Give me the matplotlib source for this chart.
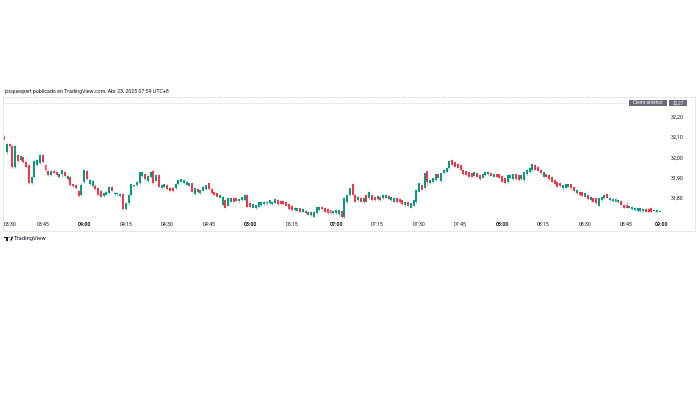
import numpy as np
import matplotlib.pyplot as plt
from matplotlib.patches import Rectangle, Circle, Polygon

plt.rcParams['font.family'] = ['Roboto', 'DejaVu Sans']

# 1-minute candles, 03:31 .. 08:58 (session break 05:30 -> 07:00)
opens = [
    32.10, 32.03, 32.065, 32.055, 31.955, 32.015, 31.99, 32.005, 31.98, 31.965,
    31.875, 31.905, 31.965, 31.975, 32.015, 31.965, 31.935, 31.915, 31.935, 31.93,
    31.905, 31.92, 31.93, 31.895, 31.905, 31.87, 31.865, 31.835, 31.815, 31.88,
    31.935, 31.87, 31.86, 31.86, 31.85, 31.837, 31.81, 31.817, 31.825, 31.858,
    31.82, 31.822, 31.81, 31.82, 31.748, 31.776, 31.817, 31.862, 31.866, 31.874,
    31.91, 31.918, 31.885, 31.905, 31.935, 31.888, 31.915, 31.85, 31.855, 31.866,
    31.853, 31.852, 31.85, 31.869, 31.883, 31.876, 31.868, 31.863, 31.874, 31.822,
    31.846, 31.826, 31.838, 31.846, 31.874, 31.846, 31.83, 31.825, 31.803, 31.768,
    31.792, 31.765, 31.784, 31.80, 31.80, 31.788,
    31.792, 31.795, 31.817, 31.776, 31.755, 31.752, 31.76, 31.768, 31.771, 31.776,
    31.776, 31.771, 31.776, 31.792, 31.788, 31.786, 31.784, 31.771, 31.765, 31.742,
    31.74, 31.752, 31.736, 31.728, 31.735, 31.717, 31.711, 31.727, 31.743, 31.76,
    31.755, 31.748, 31.743, 31.728, 31.728, 31.722, 31.74, 31.71, 31.784, 31.817,
    31.869, 31.817, 31.792, 31.804, 31.784, 31.817, 31.801, 31.817, 31.809, 31.797,
    31.809, 31.801, 31.804, 31.814, 31.792, 31.784, 31.801, 31.797, 31.792, 31.768,
    31.781, 31.755, 31.765, 31.784, 31.833, 31.866, 31.85, 31.935, 31.874, 31.879,
    31.891, 31.918, 31.886, 31.923, 31.931, 31.948, 31.989, 31.977, 31.967, 31.964,
    31.94, 31.935,
    31.928, 31.923, 31.912, 31.923, 31.915, 31.902, 31.915, 31.918, 31.926, 31.907,
    31.918, 31.918, 31.912, 31.899, 31.879, 31.899, 31.895, 31.918, 31.915, 31.895,
    31.891, 31.918, 31.928, 31.94, 31.964, 31.956, 31.94, 31.907, 31.918, 31.915,
    31.907, 31.891, 31.879, 31.876, 31.85, 31.853, 31.858, 31.869, 31.858, 31.825,
    31.833, 31.83, 31.809, 31.817, 31.792, 31.804, 31.801, 31.765, 31.792, 31.801,
    31.82, 31.792, 31.788, 31.784, 31.781, 31.788, 31.768, 31.768, 31.755, 31.748,
    31.743, 31.739, 31.739, 31.739, 31.748, 31.748, 31.752, 31.739, 31.735, 31.736,
]
highs = [
    32.11, 32.07, 32.07, 32.06, 32.06, 32.02, 32.015, 32.01, 31.985, 31.97,
    31.91, 31.99, 31.995, 32.02, 32.02, 31.97, 31.94, 31.94, 31.94, 31.935,
    31.925, 31.945, 31.935, 31.915, 31.91, 31.875, 31.87, 31.84, 31.875, 31.945,
    31.94, 31.895, 31.89, 31.872, 31.855, 31.84, 31.826, 31.835, 31.86, 31.862,
    31.83, 31.832, 31.826, 31.826, 31.78, 31.82, 31.878, 31.868, 31.885, 31.93,
    31.935, 31.922, 31.915, 31.935, 31.94, 31.918, 31.92, 31.868, 31.872, 31.87,
    31.856, 31.858, 31.875, 31.893, 31.897, 31.893, 31.884, 31.876, 31.878, 31.852,
    31.85, 31.844, 31.86, 31.868, 31.878, 31.85, 31.834, 31.828, 31.82, 31.812,
    31.795, 31.802, 31.806, 31.804, 31.803, 31.80,
    31.81, 31.82, 31.822, 31.78, 31.774, 31.77, 31.784, 31.787, 31.787, 31.786,
    31.795, 31.787, 31.80, 31.796, 31.791, 31.79, 31.787, 31.774, 31.768, 31.758,
    31.754, 31.755, 31.751, 31.742, 31.738, 31.734, 31.737, 31.763, 31.763, 31.763,
    31.758, 31.751, 31.746, 31.742, 31.746, 31.746, 31.743, 31.803, 31.82, 31.852,
    31.875, 31.82, 31.812, 31.808, 31.806, 31.82, 31.836, 31.822, 31.812, 31.816,
    31.812, 31.82, 31.82, 31.818, 31.812, 31.803, 31.805, 31.80, 31.795, 31.786,
    31.784, 31.779, 31.795, 31.845, 31.878, 31.87, 31.926, 31.94, 31.894, 31.902,
    31.921, 31.922, 31.926, 31.943, 31.954, 31.987, 31.995, 31.98, 31.97, 31.967,
    31.944, 31.938,
    31.932, 31.926, 31.93, 31.927, 31.918, 31.921, 31.931, 31.931, 31.93, 31.921,
    31.921, 31.921, 31.915, 31.902, 31.918, 31.918, 31.921, 31.921, 31.918, 31.918,
    31.931, 31.943, 31.951, 31.97, 31.968, 31.96, 31.943, 31.93, 31.921, 31.918,
    31.91, 31.894, 31.882, 31.88, 31.868, 31.872, 31.872, 31.873, 31.861, 31.845,
    31.836, 31.833, 31.828, 31.82, 31.812, 31.807, 31.805, 31.804, 31.812, 31.82,
    31.824, 31.807, 31.80, 31.80, 31.795, 31.791, 31.771, 31.784, 31.768, 31.762,
    31.757, 31.754, 31.754, 31.75, 31.751, 31.751, 31.756, 31.746, 31.745, 31.741,
]
lows = [
    32.085, 32.02, 32.05, 31.95, 31.95, 31.98, 31.985, 31.975, 31.95, 31.87,
    31.87, 31.90, 31.96, 31.97, 31.975, 31.935, 31.91, 31.91, 31.92, 31.91,
    31.90, 31.905, 31.905, 31.89, 31.86, 31.855, 31.845, 31.805, 31.81, 31.875,
    31.89, 31.865, 31.855, 31.844, 31.815, 31.805, 31.805, 31.815, 31.82, 31.835,
    31.815, 31.818, 31.805, 31.745, 31.745, 31.77, 31.812, 31.858, 31.862, 31.87,
    31.905, 31.893, 31.88, 31.90, 31.87, 31.885, 31.855, 31.848, 31.852, 31.844,
    31.835, 31.834, 31.848, 31.866, 31.88, 31.872, 31.865, 31.86, 31.83, 31.818,
    31.828, 31.823, 31.835, 31.843, 31.844, 31.823, 31.815, 31.807, 31.80, 31.765,
    31.752, 31.762, 31.782, 31.782, 31.786, 31.785,
    31.79, 31.79, 31.757, 31.757, 31.752, 31.749, 31.757, 31.765, 31.768, 31.77,
    31.773, 31.768, 31.773, 31.769, 31.769, 31.768, 31.762, 31.746, 31.741, 31.738,
    31.737, 31.733, 31.733, 31.725, 31.717, 31.714, 31.708, 31.724, 31.74, 31.746,
    31.733, 31.725, 31.725, 31.725, 31.725, 31.716, 31.706, 31.706, 31.78, 31.814,
    31.815, 31.781, 31.79, 31.781, 31.78, 31.781, 31.798, 31.79, 31.79, 31.795,
    31.79, 31.798, 31.80, 31.795, 31.789, 31.781, 31.779, 31.779, 31.769, 31.765,
    31.763, 31.752, 31.762, 31.78, 31.83, 31.84, 31.846, 31.862, 31.871, 31.876,
    31.888, 31.90, 31.882, 31.92, 31.928, 31.945, 31.962, 31.954, 31.949, 31.938,
    31.916, 31.913,
    31.905, 31.905, 31.909, 31.905, 31.893, 31.899, 31.912, 31.914, 31.91, 31.904,
    31.905, 31.90, 31.879, 31.871, 31.875, 31.896, 31.892, 31.892, 31.888, 31.892,
    31.888, 31.915, 31.925, 31.937, 31.938, 31.933, 31.92, 31.904, 31.904, 31.892,
    31.879, 31.866, 31.855, 31.856, 31.847, 31.85, 31.855, 31.847, 31.834, 31.822,
    31.814, 31.811, 31.806, 31.794, 31.789, 31.781, 31.773, 31.762, 31.789, 31.798,
    31.802, 31.789, 31.785, 31.781, 31.778, 31.766, 31.753, 31.753, 31.752, 31.745,
    31.74, 31.736, 31.736, 31.736, 31.733, 31.733, 31.733, 31.737, 31.733, 31.734,
]
closes = [
    32.09, 32.065, 32.055, 31.955, 32.055, 31.985, 32.01, 31.98, 31.955, 31.875,
    31.905, 31.985, 31.99, 32.015, 31.98, 31.94, 31.915, 31.935, 31.925, 31.915,
    31.92, 31.94, 31.91, 31.91, 31.865, 31.86, 31.85, 31.81, 31.865, 31.94,
    31.895, 31.89, 31.885, 31.846, 31.817, 31.809, 31.825, 31.833, 31.858, 31.837,
    31.826, 31.828, 31.822, 31.748, 31.776, 31.817, 31.873, 31.866, 31.882, 31.928,
    31.928, 31.895, 31.912, 31.93, 31.874, 31.915, 31.858, 31.866, 31.869, 31.846,
    31.837, 31.838, 31.872, 31.891, 31.895, 31.89, 31.882, 31.874, 31.834, 31.85,
    31.83, 31.842, 31.858, 31.866, 31.846, 31.825, 31.817, 31.809, 31.817, 31.809,
    31.755, 31.80, 31.804, 31.784, 31.788, 31.797,
    31.809, 31.817, 31.76, 31.76, 31.771, 31.768, 31.781, 31.784, 31.784, 31.782,
    31.792, 31.784, 31.797, 31.771, 31.771, 31.771, 31.765, 31.748, 31.743, 31.755,
    31.752, 31.735, 31.748, 31.739, 31.719, 31.732, 31.735, 31.76, 31.76, 31.748,
    31.735, 31.727, 31.727, 31.739, 31.743, 31.743, 31.71, 31.801, 31.817, 31.85,
    31.817, 31.784, 31.809, 31.784, 31.804, 31.784, 31.833, 31.792, 31.792, 31.814,
    31.792, 31.817, 31.817, 31.797, 31.809, 31.801, 31.781, 31.781, 31.771, 31.784,
    31.765, 31.776, 31.792, 31.842, 31.874, 31.842, 31.923, 31.882, 31.891, 31.899,
    31.918, 31.902, 31.923, 31.94, 31.951, 31.984, 31.964, 31.956, 31.951, 31.94,
    31.918, 31.915,
    31.907, 31.907, 31.928, 31.907, 31.895, 31.918, 31.928, 31.928, 31.912, 31.918,
    31.907, 31.902, 31.882, 31.874, 31.915, 31.915, 31.918, 31.895, 31.891, 31.915,
    31.928, 31.94, 31.948, 31.967, 31.94, 31.935, 31.923, 31.928, 31.907, 31.895,
    31.882, 31.869, 31.858, 31.86, 31.866, 31.869, 31.869, 31.85, 31.837, 31.842,
    31.817, 31.814, 31.825, 31.797, 31.809, 31.784, 31.776, 31.801, 31.809, 31.817,
    31.804, 31.804, 31.797, 31.797, 31.792, 31.768, 31.755, 31.755, 31.765, 31.76,
    31.755, 31.752, 31.752, 31.748, 31.735, 31.735, 31.735, 31.745, 31.743, 31.739,
]

time_labels = ['03:30', '03:45', '04:00', '04:15', '04:30', '04:45', '05:00', '05:15',
               '07:00', '07:15', '07:30', '07:45', '08:00', '08:15', '08:30', '08:45', '09:00']
price_ticks = [31.80, 31.90, 32.00, 32.10, 32.20]
prev_close = 32.27
header = "josquexpert publicado en TradingView.com, Abr 23, 2025 07:59 UTC+8"

up_col = '#089981'
down_col = '#f23645'
text_col = '#131722'

W, H = 700, 393
fig = plt.figure(figsize=(7, 3.93), dpi=100)
ax = fig.add_axes([3 / W, 1 - 220 / H, 663 / W, 123 / H])

o = np.array(opens)
h = np.array(highs)
l = np.array(lows)
c = np.array(closes)
x = np.arange(1, len(o) + 1)
cols = np.where(c >= o, up_col, down_col)

ax.vlines(x, l, h, colors=cols, linewidth=0.4)
body = np.maximum(np.abs(c - o), 0.0015)
ax.bar(x, body, bottom=np.minimum(o, c), width=0.72, color=cols, linewidth=0)

ax.set_xlim(0.64, 240.25)
ax.set_ylim(31.6946, 32.2975)
for s in ax.spines.values():
    s.set_visible(False)
ax.set_xticks([])
ax.set_yticks([])

# time axis labels (session break 05:30 -> 07:00 collapsed)
for lab in time_labels:
    hh, mm = map(int, lab.split(':'))
    mins = hh * 60 + mm - 210
    if mins > 120:
        mins = mins - 90 + 1
    pos = min(max(mins, 3.2), 238.8)
    ax.text(pos, -0.04, lab, transform=ax.get_xaxis_transform(), ha='center', va='center',
            fontsize=3.7, color=text_col, fontweight='bold' if mm == 0 else 'normal')

# price scale
for p in price_ticks:
    ax.text(1.0166, p, '{:.2f}'.format(p).replace('.', ','), transform=ax.get_yaxis_transform(),
            ha='center', va='center', fontsize=3.8, color=text_col)

# previous close line and labels
ax.plot([0.64, 226.5], [prev_close, prev_close], ls=(0, (1, 1.5)), color='#b2b5be', lw=0.5)
yt = ax.get_yaxis_transform()
ax.add_patch(Rectangle((0.944, prev_close - 0.0147), 0.0573, 0.0294, transform=yt,
                       color='#6a6d78', clip_on=False, lw=0))
ax.add_patch(Rectangle((1.0045, prev_close - 0.0147), 0.0272, 0.0294, transform=yt,
                       color='#6a6d78', clip_on=False, lw=0))
ax.text(0.9727, prev_close, 'Cierre anterior', transform=yt, ha='center', va='center',
        fontsize=3.3, color='white')
ax.text(1.0181, prev_close, '{:.2f}'.format(prev_close).replace('.', ','), transform=yt,
        ha='center', va='center', fontsize=3.3, color='white')

# widget frame
fig.add_artist(Rectangle((3 / W, 1 - 231 / H), 692 / W, 134 / H, transform=fig.transFigure,
                         fill=False, edgecolor='#e0e3eb', lw=0.6))

fig.text(4 / W, 1 - 92 / H, header, fontsize=3.8, va='center', ha='left', color=text_col)

# TradingView logo
fig.add_artist(Rectangle((4 / W, 1 - 238 / H), 4 / W, 1.4 / H, transform=fig.transFigure,
                         color=text_col, lw=0))
fig.add_artist(Rectangle((6.2 / W, 1 - 240.5 / H), 1.6 / W, 3.5 / H, transform=fig.transFigure,
                         color=text_col, lw=0))
fig.add_artist(Circle((9.2 / W, 1 - 237.3 / H), 0.8 / W, transform=fig.transFigure,
                      color=text_col, lw=0))
fig.add_artist(Polygon([(10.2 / W, 1 - 240.5 / H), (11.8 / W, 1 - 240.5 / H),
                        (13.2 / W, 1 - 236.6 / H), (11.6 / W, 1 - 236.6 / H)],
                       transform=fig.transFigure, color=text_col, lw=0))
fig.text(14 / W, 1 - 238.5 / H, 'TradingView', fontsize=4.2, va='center', ha='left',
         color=text_col)

fig.savefig('out.png', dpi=100)
